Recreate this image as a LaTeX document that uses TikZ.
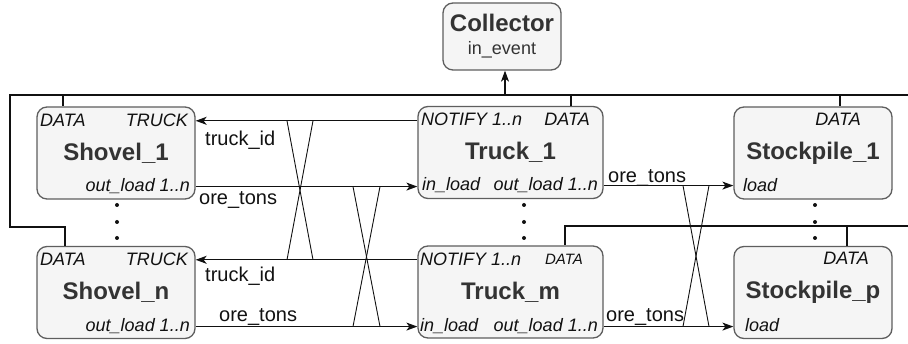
\documentclass[tikz,border=0pt]{standalone}
\usepackage{fontspec}
\setmainfont{Liberation Sans}
\usepackage{xcolor}
\usepackage{tikz}
\usetikzlibrary{arrows.meta}
\definecolor{boxbg}{HTML}{F5F5F5}
\definecolor{boxline}{HTML}{5E5E5E}
\definecolor{titletext}{HTML}{333333}
\definecolor{ink}{HTML}{111111}
\tikzset{
  unit/.style={draw=boxline, fill=boxbg, rounded corners=10pt, line width=1.3pt, text=titletext, font=\fontsize{24}{26}\selectfont\bfseries, inner sep=0pt},
  port/.style={text=ink, font=\fontsize{18}{20}\selectfont\itshape, inner sep=0pt},
  portsm/.style={port, font=\fontsize{15}{17}\selectfont\itshape},
  lab/.style={text=ink, font=\fontsize{20}{22}\selectfont, inner sep=0pt, anchor=base west},
  flow/.style={draw=ink, line width=1.2pt, -{Stealth[length=11pt,width=8pt,inset=3pt]}},
  bus/.style={draw=ink, line width=1.2pt},
  cross/.style={draw=ink, line width=0.9pt},
}

\begin{document}
\begin{tikzpicture}[x=1pt,y=-1pt]
  \useasboundingbox (0,0) rectangle (908,344);

  % units
  \node[unit, minimum width=118pt, minimum height=67pt, align=center, font=\fontsize{24}{23}\selectfont\bfseries] (col) at (502,36.5) {Collector\\{\fontsize{18}{20}\selectfont\mdseries in\_event}};
  \node[unit, minimum width=158pt, minimum height=92pt] (s1) at (116,153) {Shovel\_1};
  \node[unit, minimum width=158pt, minimum height=92pt] (sn) at (116,292.5) {Shovel\_n};
  \node[unit, minimum width=185pt, minimum height=92pt] (t1) at (510.5,152.5) {Truck\_1};
  \node[unit, minimum width=185pt, minimum height=92pt] (tm) at (510.5,292) {Truck\_m};
  \node[unit, minimum width=158pt, minimum height=92pt] (p1) at (813,153) {Stockpile\_1};
  \node[unit, minimum width=158pt, minimum height=92pt] (pp) at (813,292.5) {Stockpile\_p};

  % ports
  \node[port, anchor=base west] (s1data) at (40,127) {DATA};
  \node[port, anchor=base east] (s1truck) at (188,127) {TRUCK};
  \node[port, anchor=base east] (s1out) at (190,192) {out\_load 1..n};
  \node[port, anchor=base west] (t1notify) at (421,126) {NOTIFY 1..n};
  \node[port, anchor=base east] (t1data) at (590,126) {DATA};
  \node[port, anchor=base west] (t1in) at (422,191) {in\_load};
  \node[port, anchor=base east] (t1out) at (598,191) {out\_load 1..n};
  \node[port, anchor=base east] (p1data) at (861,126) {DATA};
  \node[port, anchor=base west] (p1load) at (743,192) {load};

  \node[port, anchor=base west] (sndata) at (40,266) {DATA};
  \node[port, anchor=base east] (sntruck) at (188,266) {TRUCK};
  \node[port, anchor=base east] (snout) at (190,332) {out\_load 1..n};
  \node[port, anchor=base west] (tmnotify) at (420,266) {NOTIFY 1..n};
  \node[portsm, anchor=base east] (tmdata) at (583,265) {DATA};
  \node[port, anchor=base west] (tmin) at (420,332) {in\_load};
  \node[port, anchor=base east] (tmout) at (598,332) {out\_load 1..n};
  \node[port, anchor=base east] (ppdata) at (869,265) {DATA};
  \node[port, anchor=base west] (ppload) at (745,332) {load};

  % bus
  \coordinate (busW) at (10,95);
  \coordinate (busE) at (908,95);
  \coordinate (snbus) at (65,227);
  \coordinate (s1bus) at (63,95);
  \coordinate (t1bus) at (571,95);
  \coordinate (p1bus) at (840,95);
  \coordinate (colbus) at (505,95);
  \coordinate (bus2E) at (908,226);
  \coordinate (tmbus) at (565,226);
  \coordinate (ppbus) at (847,226);

  \draw[bus] (busE) -- (busW) |- (snbus) -- (snbus |- sn.north);
  \draw[bus] (s1bus) -- (s1bus |- s1.north);
  \draw[bus] (t1bus) -- (t1bus |- t1.north);
  \draw[bus] (p1bus) -- (p1bus |- p1.north);
  \draw[bus] (bus2E) -- (tmbus) -- (tmbus |- tm.north);
  \draw[bus] (ppbus) -- (ppbus |- pp.north);
  \draw[flow] (colbus) -- (colbus |- col.south);

  % flows
  \draw[flow] (s1truck -| t1.west) -- (s1truck -| s1.east);
  \draw[flow] (s1out -| s1.east) -- (s1out -| t1.west);
  \draw[flow] (sntruck -| tm.west) -- (sntruck -| sn.east);
  \draw[flow] (snout -| sn.east) -- (snout -| tm.west);
  \draw[flow] (t1out -| t1.east) -- (t1out -| p1.west);
  \draw[flow] (tmout -| tm.east) -- (tmout -| pp.west);

  % crossings
  \coordinate (xa) at (287,0);
  \coordinate (xb) at (313,0);
  \coordinate (xc) at (353,0);
  \coordinate (xd) at (380,0);
  \coordinate (xe) at (683,0);
  \coordinate (xf) at (709,0);
  \draw[cross] (xa |- s1truck) -- (xb |- sntruck);
  \draw[cross] (xb |- s1truck) -- (xa |- sntruck);
  \draw[cross] (xc |- s1out) -- (xd |- snout);
  \draw[cross] (xd |- s1out) -- (xc |- snout);
  \draw[cross] (xe |- t1out) -- (xf |- tmout);
  \draw[cross] (xf |- t1out) -- (xe |- tmout);

  % labels
  \node[lab] (lid1) at (205,146) {truck\_id};
  \node[lab] (lore1) at (199,205) {ore\_tons};
  \node[lab] (lid2) at (205,282) {truck\_id};
  \node[lab] (lore2) at (219,322) {ore\_tons};
  \node[lab] (lore3) at (608,183) {ore\_tons};
  \node[lab] (lore4) at (606,322) {ore\_tons};

  % dots
  \foreach \x in {117,524,815}
    \foreach \y in {205,222,238}
      \fill[ink] (\x,\y) circle (2pt);
\end{tikzpicture}
\end{document}
